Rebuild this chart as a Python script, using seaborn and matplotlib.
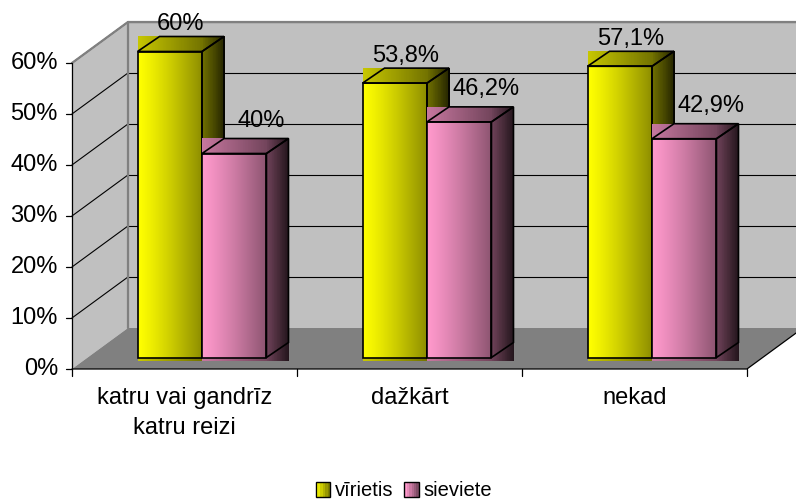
import numpy as np
import pandas as pd
import matplotlib
matplotlib.use("Agg")
import matplotlib.pyplot as plt
import seaborn as sns
from matplotlib.patches import Polygon, Rectangle, Patch
from matplotlib.legend_handler import HandlerBase

# ---- data -------------------------------------------------------------
categories = ["katru vai gandrīz\nkatru reizi", "dažkārt", "nekad"]
series = ["vīrietis", "sieviete"]
male = [60.0, 53.8, 57.1]
female = [40.0, 46.2, 42.9]
y_ticks = [0, 10, 20, 30, 40, 50, 60]

colors = {"vīrietis": (1.0, 1.0, 0.0), "sieviete": (1.0, 0.6, 0.8)}

df = pd.DataFrame({
    "kategorija": categories * 2,
    "dzimums": [series[0]] * len(categories) + [series[1]] * len(categories),
    "vertiba": male + female,
})

# ---- pseudo-3D geometry (data units: category index on x, percent on y)
W, H = 796, 499
PX_X = 225.0            # pixels per category step
PX_Y = 5.1              # pixels per percent
ORIG_X, ORIG_Y = 202.0, 357.5   # pixel position of (0, 0%) in the bar plane

FX0 = -0.578                    # front-left edge of the box
FY0 = -11.5 / PX_Y              # front floor level
DX, DY = 56 / PX_X, 41 / PX_Y   # full box depth
BDX, BDY = 22 / PX_X, 15 / PX_Y # bar depth
FX1 = FX0 + len(categories)     # front-right edge
TOP = y_ticks[-1]

WALL = "#c0c0c0"
FLOOR = "#808080"
EDGE = "#808080"


def shade(base, f):
    return tuple(np.clip(np.array(base) * f, 0, 1))


def fmt(v):
    return f"{v:g}".replace(".", ",") + "%"


sns.set_theme(style="white")
plt.rcParams["font.family"] = ["Liberation Sans", "DejaVu Sans"]
plt.rcParams["text.color"] = "black"

fig = plt.figure(figsize=(W / 100, H / 100), dpi=100)
ax = fig.add_axes([0, 0, 1, 1])

sns.barplot(data=df, x="kategorija", y="vertiba", hue="dzimums",
            order=categories, hue_order=series, palette=colors,
            width=0.573, errorbar=None, legend=False, saturation=1,
            edgecolor="black", linewidth=1.2, ax=ax)
bars = list(ax.patches)
bar_series = [series[i // len(categories)] for i in range(len(bars))]

# ---- walls and floor --------------------------------------------------
bx0, by0 = FX0 + DX, FY0 + DY
left_wall = Polygon([(FX0, FY0), (FX0, FY0 + TOP), (bx0, by0 + TOP), (bx0, by0)],
                    closed=True, fc=WALL, ec="none", zorder=0.5)
back_wall = Polygon([(bx0, by0), (FX1 + DX, by0), (FX1 + DX, by0 + TOP), (bx0, by0 + TOP)],
                    closed=True, fc=WALL, ec="none", zorder=0.5)
floor = Polygon([(FX0, FY0), (FX1, FY0), (FX1 + DX, by0), (bx0, by0)],
                closed=True, fc=FLOOR, ec="none", zorder=1)
for p in (left_wall, back_wall, floor):
    ax.add_patch(p)

for v in y_ticks[1:]:
    ax.plot([bx0, FX1 + DX], [by0 + v, by0 + v], color="black", lw=0.8, zorder=1.5)
    ax.plot([FX0, bx0], [FY0 + v, by0 + v], color="black", lw=0.8, zorder=1.5)

# box edges
ax.plot([bx0, bx0], [by0, by0 + TOP], color=EDGE, lw=1.6, zorder=1.6)
ax.plot([FX0, bx0, FX1 + DX], [FY0 + TOP, by0 + TOP, by0 + TOP], color=EDGE, lw=1.6, zorder=1.6)
ax.plot([FX0, FX0], [FY0, FY0 + TOP], color="black", lw=0.9, zorder=1.7)
ax.plot([FX0, FX1, FX1 + DX], [FY0, FY0, by0], color="black", lw=0.9, zorder=1.7)

# y ticks and labels on the front edge
tick_len = 6 / PX_X
for v in y_ticks:
    ax.plot([FX0 - tick_len, FX0], [FY0 + v, FY0 + v], color="black", lw=0.9, zorder=1.7)
    ax.text(FX0 - 14 / PX_X, FY0 + v, f"{v}%", ha="right", va="center", fontsize=17)

# category ticks and labels
for k in range(len(categories) + 1):
    ax.plot([FX0 + k, FX0 + k], [FY0, FY0 - 7 / PX_Y], color="black", lw=0.9, zorder=1.7)
for k, c in enumerate(categories):
    ax.text(FX0 + 0.5 + k, FY0 - 18 / PX_Y, c, ha="center", va="top",
            fontsize=17, linespacing=1.5)

# ---- bars: front face, top and side with shading ---------------------
label_off = {series[0]: (11, 6.5), series[1]: (27, 12)}
order = sorted(range(len(bars)), key=lambda i: bars[i].get_x())
for n, i in enumerate(order):
    p = bars[i]
    s = bar_series[i]
    base = colors[s]
    x0, w, h = p.get_x(), p.get_width(), p.get_height()
    z = 3 + n

    # top + side region
    ncol = 120
    xs = np.linspace(x0, x0 + w + BDX, ncol)
    cols = []
    for x in xs:
        if x <= x0 + w:
            t = (x - x0) / w
            cols.append(shade(base, 0.78 - 0.33 * t))
        else:
            t = (x - x0 - w) / BDX
            cols.append(shade(base, 0.44 - 0.30 * t))
    ax.imshow(np.array(cols)[None, :, :], extent=[x0, x0 + w + BDX, -0.6, h + BDY],
              aspect="auto", interpolation="nearest", zorder=z)

    # front face
    t = np.linspace(0, 1, 80)
    front = np.array([shade(base, 1 - 0.45 * tt ** 1.2) for tt in t])
    ax.imshow(front[None, :, :], extent=[x0, x0 + w, 0, h],
              aspect="auto", interpolation="bilinear", zorder=z + 0.1)

    p.set_facecolor("none")
    p.set_zorder(z + 0.2)
    ax.add_patch(Polygon([(x0, h), (x0 + w, h), (x0 + w + BDX, h + BDY), (x0 + BDX, h + BDY)],
                         closed=True, fill=False, ec="black", lw=1.2, zorder=z + 0.2))
    ax.add_patch(Polygon([(x0 + w, 0), (x0 + w + BDX, BDY), (x0 + w + BDX, h + BDY), (x0 + w, h)],
                         closed=True, fill=False, ec="black", lw=1.2, zorder=z + 0.2))

    ox, oy = label_off[s]
    ax.text(x0 + w / 2 + ox / PX_X, h + BDY + oy / PX_Y, fmt(h),
            ha="center", va="baseline", fontsize=17, zorder=20)

ax.set_xlim(-ORIG_X / PX_X, (W - ORIG_X) / PX_X)
ax.set_ylim((ORIG_Y - H) / PX_Y, ORIG_Y / PX_Y)
ax.set_axis_off()


# ---- legend with shaded keys -----------------------------------------
class ShadedKey(HandlerBase):
    def create_artists(self, legend, orig_handle, xdescent, ydescent,
                       width, height, fontsize, trans):
        base = orig_handle.get_facecolor()[:3]
        arts = []
        n = 6
        for j in range(n):
            arts.append(Rectangle((-xdescent + j * width / n, -ydescent), width / n, height,
                                  fc=shade(base, 1 - 0.5 * j / (n - 1)), ec="none",
                                  transform=trans))
        arts.append(Rectangle((-xdescent, -ydescent), width, height, fc="none",
                              ec="black", lw=1.0, transform=trans))
        return arts


handles = [Patch(facecolor=colors[s], label=s) for s in series]
fig.legend(handles=handles, labels=series, loc="center",
           bbox_to_anchor=(404 / W, 1 - 491 / H), ncol=2, frameon=False,
           fontsize=14.5, handlelength=0.7, handleheight=0.8,
           handletextpad=0.25, columnspacing=0.55, borderpad=0, borderaxespad=0,
           handler_map={h: ShadedKey() for h in handles})

fig.savefig("out.png", dpi=100)
